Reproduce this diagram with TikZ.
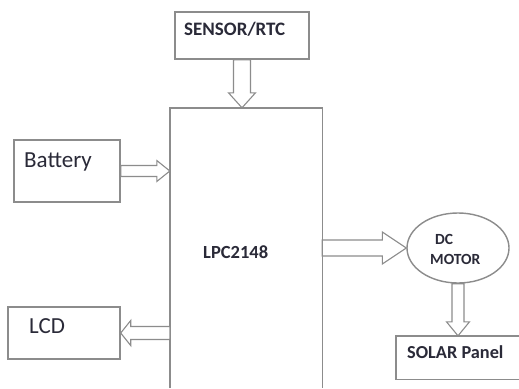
\documentclass[tikz,border=0pt]{standalone}
\usepackage{fontspec}
\setmainfont{Carlito}
\usetikzlibrary{calc,shapes.geometric}
\definecolor{edge}{HTML}{8C8C8C}
\definecolor{ink}{HTML}{2A2A38}
% #1 start, #2 tip, #3 half shaft, #4 half head, #5 head length
\newcommand{\blockarr}[5]{%
  \path ($(#2)!#5!(#1)$) coordinate (bh);
  \draw[arr] ($(#1)!#3!90:(#2)$) -- ($(bh)!#3!90:(#2)$) -- ($(bh)!#4!90:(#2)$) -- (#2)
    -- ($(bh)!#4!-90:(#2)$) -- ($(bh)!#3!-90:(#2)$) -- ($(#1)!#3!-90:(#2)$) -- cycle;}
\begin{document}
\begin{tikzpicture}[x=1pt,y=-1pt,
  box/.style={draw=edge, line width=1.4pt, rectangle, inner sep=0pt},
  openbox/.style={rectangle, inner sep=0pt},
  oval/.style={draw=edge, line width=1.4pt, ellipse, inner sep=0pt},
  txt/.style={text=ink, anchor=base west, inner sep=0pt},
  arr/.style={draw=edge, line width=1.1pt, fill=white, line join=miter}]
\useasboundingbox[fill=white] (0,0) rectangle (519,388);

% blocks
\node[box, minimum width=134pt, minimum height=47pt] (sensor) at (242,35.5) {};
\node[box, minimum width=106pt, minimum height=62pt] (battery) at (67,171) {};
\node[box, minimum width=112pt, minimum height=52pt] (lcd) at (64,333) {};
\node[openbox, minimum width=152pt, minimum height=280pt] (lpc) at (246,248) {};
\draw[edge, line width=1.4pt] (lpc.south west) -- (lpc.north west) -- (lpc.north east) -- (lpc.south east);
\node[oval, minimum width=102pt, minimum height=70pt] (motor) at (458,248) {};
\node[openbox, minimum width=125pt, minimum height=43pt] (solar) at (458.5,357.5) {};
\draw[edge, line width=1.4pt] (solar.north east) -- (solar.north west) -- (solar.south west) -- (solar.south east);

% texts
\node[txt, font=\bfseries\fontsize{19}{19}\selectfont] (tsensor) at (184,35.5) {SENSOR/RTC};
\node[txt, font=\fontsize{23}{23}\selectfont] (tbattery) at (24,167) {Battery};
\node[txt, font=\fontsize{23}{23}\selectfont] (tlcd) at (29,333) {LCD};
\node[txt, font=\bfseries\fontsize{18.5}{18.5}\selectfont] (tlpc) at (203,258.5) {LPC2148};
\node[txt, font=\bfseries\fontsize{15.5}{15.5}\selectfont] (tdc) at (435,244) {DC};
\node[txt, font=\bfseries\fontsize{15.5}{15.5}\selectfont] (tmotor) at (430,264) {MOTOR};
\node[txt, font=\bfseries\fontsize{18.3}{18.3}\selectfont] (tsolar) at (407,358.5) {SOLAR Panel};

% arrow end points
\coordinate (s1) at (sensor.south);
\coordinate (s2) at (sensor.south |- lpc.north);
\coordinate (b1) at (battery.east);
\coordinate (b2) at (battery.east -| lpc.west);
\coordinate (m1) at (lpc.east |- motor.west);
\coordinate (m2) at (motor.west);
\coordinate (l1) at (lcd.east -| lpc.west);
\coordinate (l2) at (lcd.east);
\coordinate (p1) at (motor.south);
\coordinate (p2) at (motor.south |- solar.north);

% block arrows
\blockarr{s1}{s2}{8.5pt}{13.5pt}{15pt}
\blockarr{b1}{b2}{5.5pt}{10.5pt}{13pt}
\blockarr{m1}{m2}{8pt}{16pt}{24pt}
\blockarr{l1}{l2}{6.5pt}{12.5pt}{10pt}
\blockarr{p1}{p2}{6pt}{11.5pt}{14pt}
\end{tikzpicture}
\end{document}
